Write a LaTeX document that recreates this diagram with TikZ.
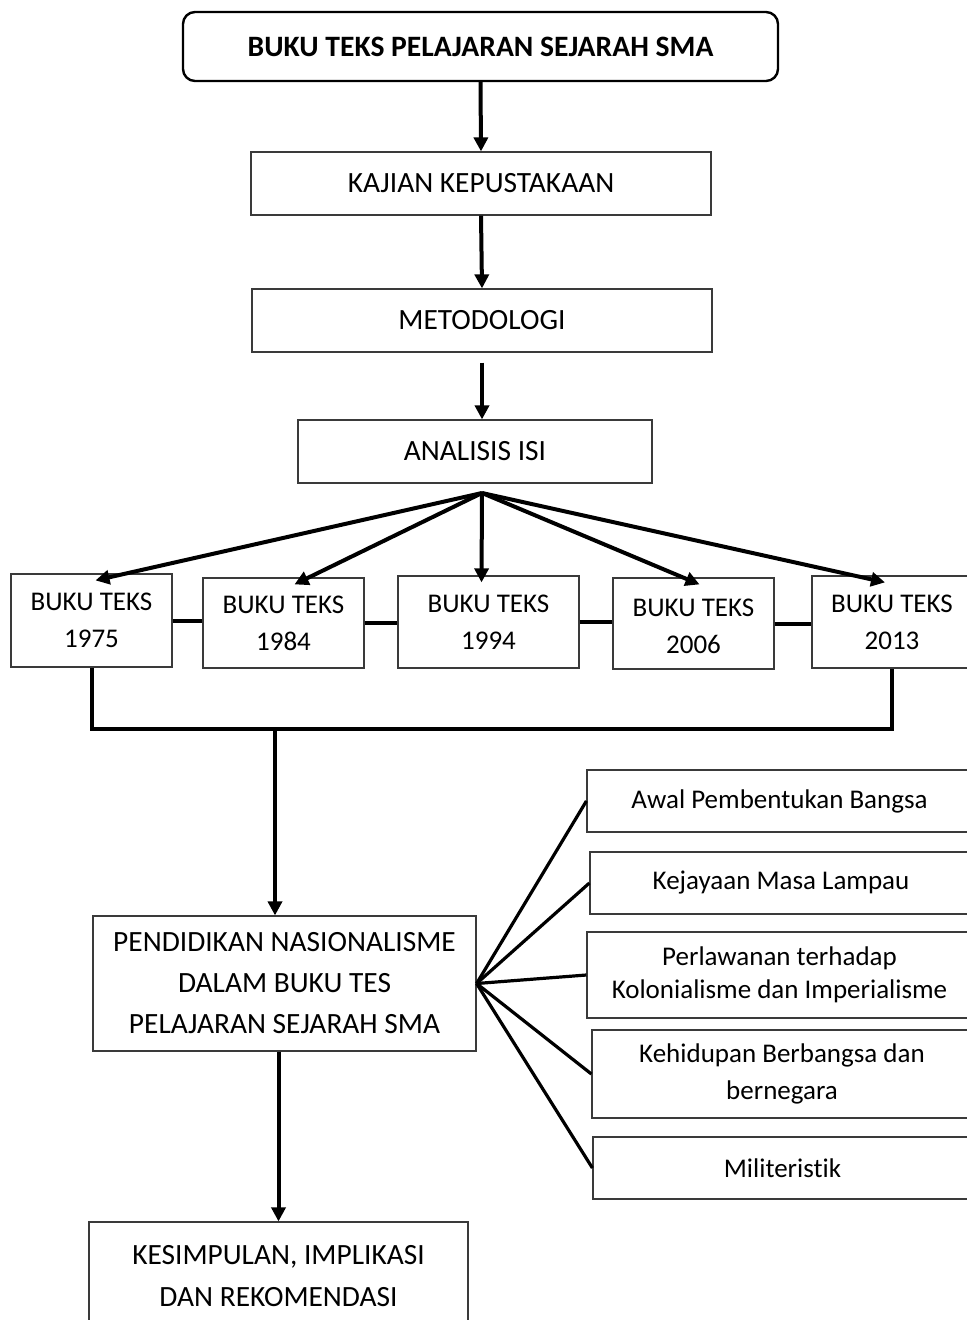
\documentclass[tikz,border=0pt]{standalone}
\usepackage{fontspec}
\setmainfont{Carlito}[Ligatures=NoCommon]
\usetikzlibrary{arrows.meta,calc}
\definecolor{ink}{HTML}{000000}
\definecolor{rim}{HTML}{3A3A3A}

\begin{document}
\begin{tikzpicture}[x=0.5pt,y=-0.5pt,text=ink,
    kotak/.style={draw=rim,line width=0.6pt,align=center,inner sep=0pt,
      font=\fontsize{14.7}{19}\selectfont},
    kecil/.style={font=\fontsize{13.5}{18.5}\selectfont},
    panah/.style={ink,line width=2pt,-{Triangle[length=7pt,width=7pt]}},
    garis/.style={ink,line width=2pt}]
  \useasboundingbox (0,0) rectangle (966,1320);

  % Main column, coordinates in pixels of the page (y runs down).
  \node[kotak,draw=ink,line width=1.2pt,rounded corners=6pt,
        minimum width=297.5pt,minimum height=34.5pt,
        font=\fontsize{14.8}{19}\selectfont\bfseries]
    (judul) at (480.5,46.5) {BUKU TEKS PELAJARAN SEJARAH SMA};
  \node[kotak,minimum width=230pt,minimum height=31.5pt]
    (kajian) at (481,183.5) {KAJIAN KEPUSTAKAAN};
  \node[kotak,minimum width=230pt,minimum height=31.5pt]
    (metode) at (482,320.5) {METODOLOGI};
  \node[kotak,minimum width=177pt,minimum height=31.5pt]
    (analisis) at (475,451.5) {ANALISIS ISI};

  \draw[panah] (judul.south) -- (kajian.north);
  \draw[panah] (kajian.south) -- (metode.north);
  \draw[panah,shorten <=5pt] (metode.south) -- (metode.south |- analisis.north);

  % The five textbooks, fanned out from below ANALISIS ISI.
  \foreach \i/\x/\y/\w/\h in {1/91.5/620.5/80.5/46.5,2/283.5/623/80.5/45,
      3/488.5/622/90.5/46,4/693.5/623.5/80.5/45.5,5/892/622/80/46}
    \node[kotak,minimum width=\w pt,minimum height=\h pt] (buku\i) at (\x,\y) {};
  \node[align=center,kecil] at (buku1) {BUKU TEKS\\1975};
  \node[align=center,kecil] at (buku2) {BUKU TEKS\\1984};
  \node[align=center,kecil] at (buku3) {BUKU TEKS\\1994};
  \node[align=center,kecil] at ($(buku4)+(0,3)$) {BUKU TEKS\\2006};
  \node[align=center,kecil] at (buku5) {BUKU TEKS\\2013};

  \coordinate (pusat) at (482,493);
  \foreach \i/\dx in {1/4,2/11,3/-7,4/6,5/-7}
    \draw[panah] (pusat) -- ($(buku\i.north)+(\dx,7)$);
  \foreach \i/\j in {1/2,2/3,3/4,4/5}
    \draw[garis] (buku\i.east) -- (buku\i.east -| buku\j.west);

  % Bracket joining the first and last book.
  \draw[garis] (buku1.south) -- ++(0,61) -| (buku5.south);
  \coordinate (cabang) at (275,727.5);

  \node[kotak,minimum width=191.5pt,minimum height=67.5pt,
        font=\fontsize{14.7}{20.5}\selectfont]
    (pendidikan) at (284.5,983.5)
    {PENDIDIKAN NASIONALISME\\DALAM BUKU TES\\PELAJARAN SEJARAH SMA};
  \draw[panah] (cabang) -- (cabang |- pendidikan.north);

  % Five aspects on the right; their right edges run off the page.
  \node[kotak,kecil,minimum width=192.5pt,minimum height=31pt]
    (aspek1) at (779.5,801) {Awal Pembentukan Bangsa};
  \node[kotak,kecil,minimum width=191pt,minimum height=31pt]
    (aspek2) at (781,883) {Kejayaan Masa Lampau};
  \node[kotak,minimum width=192.5pt,minimum height=43pt,
        font=\fontsize{13.5}{16.5}\selectfont]
    (aspek3) at (779.5,975) {Perlawanan terhadap\\Kolonialisme dan Imperialisme};
  \node[kotak,kecil,minimum width=190pt,minimum height=44pt]
    (aspek4) at (782,1074) {Kehidupan Berbangsa dan\\bernegara};
  \node[kotak,kecil,minimum width=189.5pt,minimum height=31pt]
    (aspek5) at (782.5,1168) {Militeristik};
  \foreach \i in {1,...,5}
    \draw[garis,line width=1.6pt] (pendidikan.east) -- (aspek\i.west);

  \node[kotak,minimum width=189.5pt,minimum height=54pt,
        font=\fontsize{14.7}{21}\selectfont]
    (kesimpulan) at (278.5,1276) {KESIMPULAN, IMPLIKASI\\DAN REKOMENDASI};
  \draw[panah] (kesimpulan.north |- pendidikan.south) -- (kesimpulan.north);
\end{tikzpicture}
\end{document}
